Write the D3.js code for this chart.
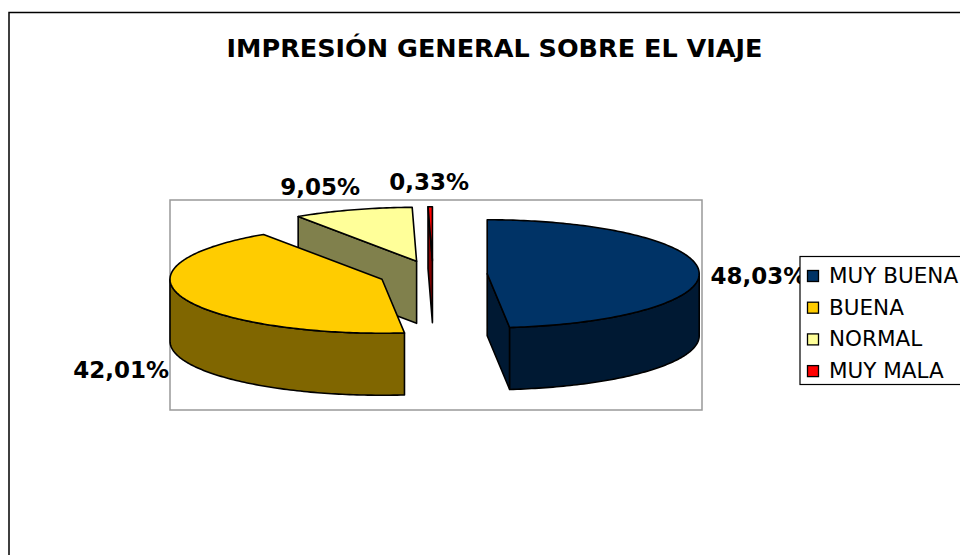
<!DOCTYPE html>
<html>
<head>
<meta charset="utf-8">
<script src="https://cdn.jsdelivr.net/npm/d3@7"></script>
<style>
  body { margin: 0; background: #fff; }
  svg { display: block; }
  text { font-family: Verdana, "DejaVu Sans", sans-serif; }
</style>
</head>
<body>
<div id="vis"></div>
<script>
// chart data
var categories = ["MUY BUENA", "BUENA", "NORMAL", "MUY MALA"];
var values = [48.03, 42.01, 9.05, 0.33];
var topColors = ["#003366", "#FFCC00", "#FFFF99", "#FF0000"];
var sideColors = ["#001933", "#806600", "#80804C", "#800000"];
var title = "IMPRESIÓN GENERAL SOBRE EL VIAJE";

var width = 960, height = 555;

// pie geometry (3d look)
var cx0 = 433, cy0 = 274.5,
    RX = 212, RY = 54,
    depth = 62,
    explode = 0.256;

var fmt = d3.formatLocale({decimal: ",", thousands: ".", grouping: [3], currency: ["", "€"]}).format(".2f");

var svg = d3.select("#vis").append("svg")
    .attr("width", width)
    .attr("height", height);

// outer chart border
svg.append("rect")
    .attr("x", 9).attr("y", 12.5)
    .attr("width", 1000).attr("height", 600)
    .attr("fill", "none")
    .attr("stroke", "#000")
    .attr("stroke-width", 1.5);

svg.append("text")
    .attr("x", 494.5).attr("y", 56.5)
    .attr("text-anchor", "middle")
    .attr("font-size", 25.5)
    .attr("font-weight", "bold")
    .text(title);

// plot area
svg.append("rect")
    .attr("x", 170).attr("y", 200)
    .attr("width", 532).attr("height", 210)
    .attr("fill", "none")
    .attr("stroke", "#999")
    .attr("stroke-width", 1.5);

var pie = d3.pie().sort(null).value(function(d) { return d; })
    .startAngle(0).endAngle(2 * Math.PI);

var slices = pie(values).map(function(d, i) {
    var mid = (d.startAngle + d.endAngle) / 2;
    return {
        i: i,
        a0: d.startAngle,
        a1: d.endAngle,
        mid: mid,
        cx: cx0 + explode * RX * Math.sin(mid),
        cy: cy0 - explode * RY * Math.cos(mid)
    };
});

function pt(s, a, r, h) {
    return [s.cx + RX * r * Math.sin(a), s.cy - RY * r * Math.cos(a) + h];
}

function arcPts(s, a0, a1, h) {
    var n = Math.max(2, Math.ceil(Math.abs(a1 - a0) / (Math.PI / 180)));
    var out = [];
    for (var k = 0; k <= n; k++) {
        out.push(pt(s, a0 + (a1 - a0) * k / n, 1, h));
    }
    return out;
}

var line = d3.line().curve(d3.curveLinearClosed);

// back slices first
var order = slices.slice().sort(function(a, b) { return a.cy - b.cy; });

var pieG = svg.append("g");

order.forEach(function(s) {
    var g = pieG.append("g");
    var c = [s.cx, s.cy], cb = [s.cx, s.cy + depth];

    // radial side faces
    if (Math.sin(s.a0) < -1e-6) {
        g.append("path")
            .attr("d", line([c, pt(s, s.a0, 1, 0), pt(s, s.a0, 1, depth), cb]))
            .attr("fill", sideColors[s.i]);
    }
    if (Math.sin(s.a1) > 1e-6) {
        g.append("path")
            .attr("d", line([c, pt(s, s.a1, 1, 0), pt(s, s.a1, 1, depth), cb]))
            .attr("fill", sideColors[s.i]);
    }

    // outer rim, front half only
    var r0 = Math.max(s.a0, Math.PI / 2), r1 = Math.min(s.a1, 3 * Math.PI / 2);
    if (r1 > r0) {
        var pts = arcPts(s, r0, r1, 0).concat(arcPts(s, r1, r0, depth));
        g.append("path")
            .attr("d", line(pts))
            .attr("fill", sideColors[s.i]);
    }

    // top face
    g.append("path")
        .attr("d", line([c].concat(arcPts(s, s.a0, s.a1, 0))))
        .attr("fill", topColors[s.i]);

    g.selectAll("path")
        .attr("stroke", "#000")
        .attr("stroke-width", 1.6)
        .attr("stroke-linejoin", "round");
});

// data labels, placed outside the slices
svg.append("g").selectAll("text")
    .data(slices)
    .join("text")
    .attr("x", function(s) {
        var c = Math.cos(s.mid);
        return s.cx + (1.28 + 0.25 * c * c) * RX * Math.sin(s.mid);
    })
    .attr("y", function(s) {
        var y = s.cy - 1.45 * RY * Math.cos(s.mid);
        var sn = Math.sin(s.mid);
        return y + (Math.cos(s.mid) < 0 ? depth * 0.95 : 0) + 8 + 6 * sn * sn;
    })
    .attr("text-anchor", "middle")
    .attr("font-size", 23)
    .attr("font-weight", "bold")
    .text(function(s) { return fmt(values[s.i]) + "%"; });

// legend
var legend = svg.append("g");
legend.append("rect")
    .attr("x", 800).attr("y", 256.5)
    .attr("width", 200).attr("height", 128)
    .attr("fill", "#fff")
    .attr("stroke", "#000")
    .attr("stroke-width", 1.2);

var item = legend.selectAll("g.item")
    .data(categories)
    .join("g")
    .attr("class", "item")
    .attr("transform", function(d, i) { return "translate(0," + (283 + i * 31.7) + ")"; });

item.append("rect")
    .attr("x", 807.5).attr("y", -12.5)
    .attr("width", 11).attr("height", 11)
    .attr("fill", function(d, i) { return topColors[i]; })
    .attr("stroke", "#000")
    .attr("stroke-width", 1.3);

item.append("text")
    .attr("x", 829).attr("y", 0)
    .attr("font-size", 21.5)
    .text(function(d) { return d; });
</script>
</body>
</html>
